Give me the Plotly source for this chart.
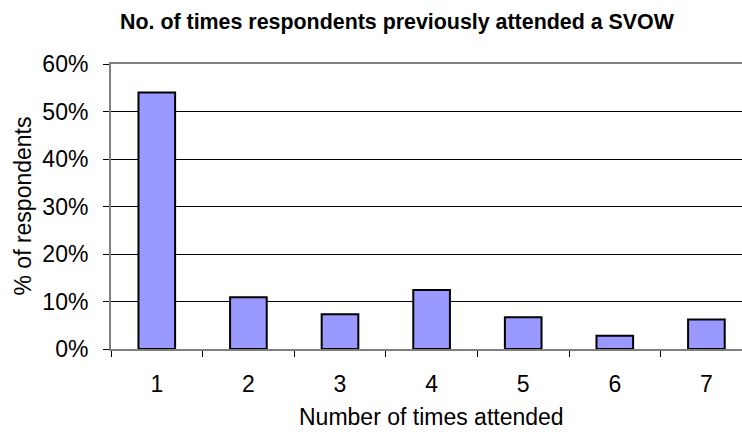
import plotly.graph_objects as go

# Survey results: how many times respondents had attended a SVOW before
times_attended = ["1", "2", "3", "4", "5", "6", "7"]
pct_respondents = [54.0, 10.9, 7.3, 12.4, 6.7, 2.8, 6.2]
y_ticks = [0, 10, 20, 30, 40, 50, 60]
y_tick_labels = [f"{v}%" for v in y_ticks]

FONT = "Liberation Sans, Arial, sans-serif"
W, H = 742, 432
L, T, B = 111, 64, 83
PW, PH = W - L, H - T - B


def px_x(x):
    return (x - L) / PW


def px_y(y):
    return (H - B - y) / PH


fig = go.Figure(
    go.Bar(
        x=times_attended,
        y=pct_respondents,
        marker=dict(color="#9999FF", line=dict(color="#000000", width=2)),
        width=0.4,
        hoverinfo="skip",
    )
)

fig.update_layout(
    width=W,
    height=H,
    margin=dict(l=L, r=0, t=T, b=B),
    paper_bgcolor="white",
    plot_bgcolor="white",
    showlegend=False,
    font=dict(family=FONT, size=23, color="#000000"),
    annotations=[
        dict(
            text="<b>No. of times respondents previously attended a SVOW</b>",
            x=px_x(397), y=px_y(22), xref="paper", yref="paper",
            showarrow=False, font=dict(size=21.4),
            xanchor="center", yanchor="middle",
        ),
        dict(
            text="Number of times attended",
            x=px_x(431), y=px_y(417), xref="paper", yref="paper",
            showarrow=False, font=dict(size=23),
            xanchor="center", yanchor="middle",
        ),
        dict(
            text="% of respondents",
            x=px_x(22), y=px_y((T + H - B) / 2), xref="paper", yref="paper",
            showarrow=False, font=dict(size=23), textangle=-90,
            xanchor="center", yanchor="middle",
        ),
    ],
)

fig.update_xaxes(
    type="category",
    range=[-0.5, -0.5 + PW / 91.6],
    tickson="boundaries",
    ticks="outside",
    ticklen=6,
    tickcolor="#000000",
    showline=True,
    linecolor="#808080",
    linewidth=2,
    mirror=True,
    showgrid=False,
    tickfont=dict(size=23),
    ticklabelstandoff=13,
)

fig.update_yaxes(
    range=[0, 60],
    tickvals=y_ticks,
    ticktext=y_tick_labels,
    ticks="outside",
    ticklen=6,
    tickcolor="#000000",
    showline=True,
    linecolor="#808080",
    linewidth=2,
    showgrid=True,
    gridcolor="#000000",
    gridwidth=1,
    zeroline=False,
    tickfont=dict(size=23),
    ticklabelstandoff=10,
)

fig.write_html("out.html")
